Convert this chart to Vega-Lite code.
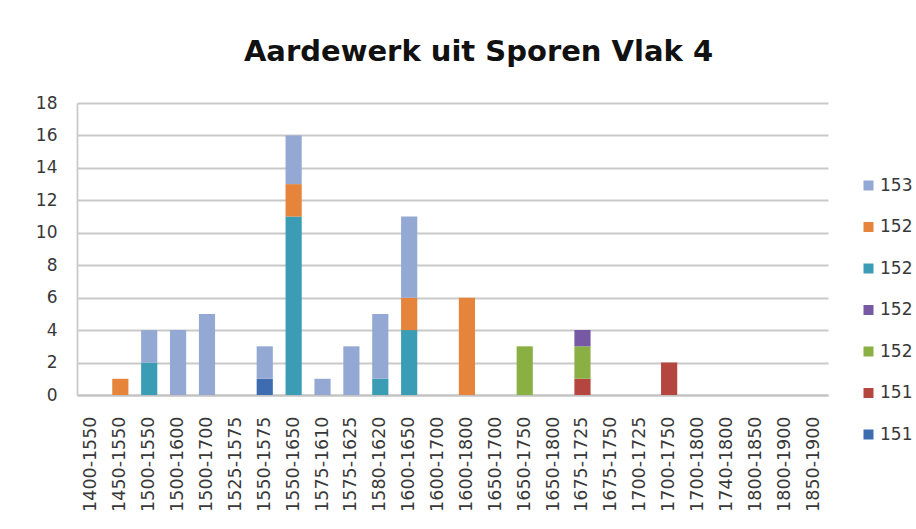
{
  "$schema": "https://vega.github.io/schema/vega-lite/v6.json",
  "width": 751,
  "height": 292,
  "autosize": {"type": "none"},
  "padding": {"left": 77, "top": 103, "right": 88, "bottom": 134},
  "background": "white",
  "title": {
    "text": "Aardewerk uit Sporen Vlak 4",
    "font": "DejaVu Sans",
    "fontSize": 29,
    "fontWeight": "bold",
    "color": "#111111",
    "anchor": "middle",
    "dx": 26,
    "offset": 27
  },
  "data": {
    "values": [
      {"periode": "1450-1550", "spoor": "1528", "s": 6, "n": 1},
      {"periode": "1500-1550", "spoor": "1526", "s": 5, "n": 2},
      {"periode": "1500-1550", "spoor": "1531", "s": 7, "n": 2},
      {"periode": "1500-1600", "spoor": "1531", "s": 7, "n": 4},
      {"periode": "1500-1700", "spoor": "1531", "s": 7, "n": 5},
      {"periode": "1550-1575", "spoor": "1518", "s": 1, "n": 1},
      {"periode": "1550-1575", "spoor": "1531", "s": 7, "n": 2},
      {"periode": "1550-1650", "spoor": "1526", "s": 5, "n": 11},
      {"periode": "1550-1650", "spoor": "1528", "s": 6, "n": 2},
      {"periode": "1550-1650", "spoor": "1531", "s": 7, "n": 3},
      {"periode": "1575-1610", "spoor": "1531", "s": 7, "n": 1},
      {"periode": "1575-1625", "spoor": "1531", "s": 7, "n": 3},
      {"periode": "1580-1620", "spoor": "1526", "s": 5, "n": 1},
      {"periode": "1580-1620", "spoor": "1531", "s": 7, "n": 4},
      {"periode": "1600-1650", "spoor": "1526", "s": 5, "n": 4},
      {"periode": "1600-1650", "spoor": "1528", "s": 6, "n": 2},
      {"periode": "1600-1650", "spoor": "1531", "s": 7, "n": 5},
      {"periode": "1600-1800", "spoor": "1528", "s": 6, "n": 6},
      {"periode": "1650-1750", "spoor": "1520", "s": 3, "n": 3},
      {"periode": "1675-1725", "spoor": "1519", "s": 2, "n": 1},
      {"periode": "1675-1725", "spoor": "1520", "s": 3, "n": 2},
      {"periode": "1675-1725", "spoor": "1524", "s": 4, "n": 1},
      {"periode": "1700-1750", "spoor": "1519", "s": 2, "n": 2}
    ]
  },
  "mark": {"type": "bar"},
  "encoding": {
    "x": {
      "field": "periode",
      "type": "nominal",
      "sort": null,
      "scale": {
        "domain": ["1400-1550","1450-1550","1500-1550","1500-1600","1500-1700","1525-1575","1550-1575","1550-1650","1575-1610","1575-1625","1580-1620","1600-1650","1600-1700","1600-1800","1650-1700","1650-1750","1650-1800","1675-1725","1675-1750","1700-1725","1700-1750","1700-1800","1740-1800","1800-1850","1800-1900","1850-1900"],
        "paddingInner": 0.44,
        "paddingOuter": 0.22
      },
      "axis": {
        "title": null,
        "labelAngle": -90,
        "labelFont": "DejaVu Sans",
        "labelFontSize": 17.5,
        "labelColor": "#383838",
        "labelPadding": 21,
        "ticks": false,
        "tickSize": 0,
        "domainColor": "#c2c2c2",
        "domainWidth": 1.8,
        "grid": false
      }
    },
    "y": {
      "field": "n",
      "type": "quantitative",
      "aggregate": "sum",
      "stack": "zero",
      "scale": {"domain": [0, 18], "nice": false},
      "axis": {
        "title": null,
        "values": [0, 2, 4, 6, 8, 10, 12, 14, 16, 18],
        "labelFont": "DejaVu Sans",
        "labelFontSize": 17,
        "labelColor": "#383838",
        "labelPadding": 20,
        "ticks": false,
        "tickSize": 0,
        "domain": true,
        "domainColor": "#cacaca",
        "domainWidth": 1.8,
        "grid": true,
        "gridColor": "#c9c9c9",
        "gridWidth": 1.8
      }
    },
    "order": {"field": "s", "type": "quantitative", "sort": "ascending"},
    "color": {
      "field": "spoor",
      "type": "nominal",
      "scale": {
        "domain": ["1531", "1528", "1526", "1524", "1520", "1519", "1518"],
        "range": ["#93A9D4", "#E5843A", "#3A9DB5", "#7658A5", "#8AB044", "#B5463F", "#3D6CB0"]
      },
      "legend": {
        "title": null,
        "orient": "none",
        "legendX": 783,
        "legendY": 74,
        "symbolType": "square",
        "symbolSize": 100,
        "symbolStrokeWidth": 0,
        "labelFont": "DejaVu Sans",
        "labelFontSize": 17,
        "labelColor": "#383838",
        "labelOffset": 3,
        "rowPadding": 23.5,
        "padding": 0,
        "labelExpr": "substring(datum.label, 0, 3)"
      }
    }
  },
  "config": {
    "view": {"stroke": null},
    "bar": {"stroke": null}
  }
}
